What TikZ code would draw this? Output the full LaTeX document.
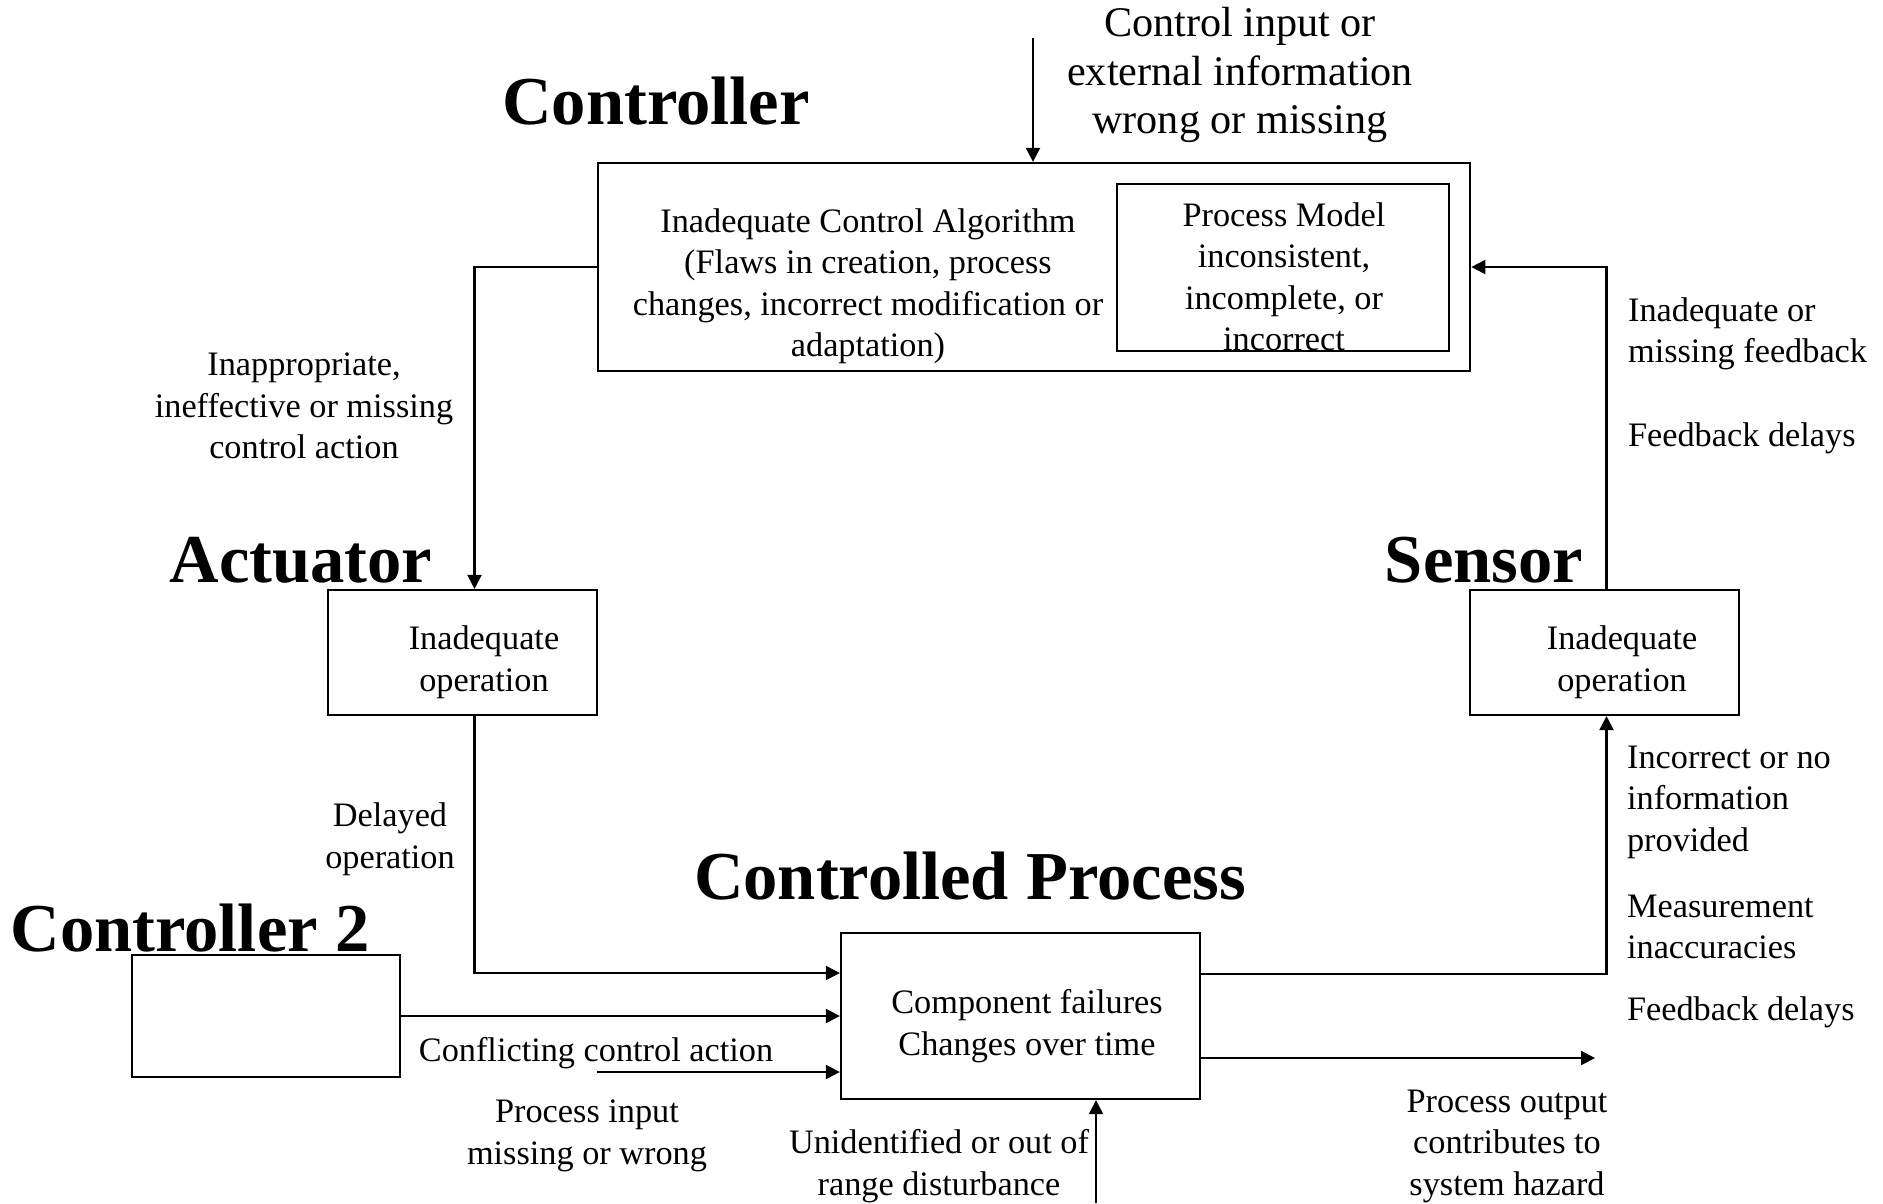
\documentclass[tikz,border=0pt]{standalone}
\usepackage{fontspec}
\setmainfont{Liberation Serif}
\usetikzlibrary{arrows.meta}

\begin{document}
\begin{tikzpicture}[x=0.01cm, y=-0.01cm, ->, >={Triangle[length=1.4mm, width=1.4mm]}, line width=0.6pt,
    box/.style={rectangle, draw, inner sep=0pt},
    txt/.style={inner sep=0pt, yshift=-0.03cm, align=center, font=\fontsize{9.75}{11.8}\selectfont},
    bigtxt/.style={inner sep=0pt, yshift=-0.02cm, align=center, font=\fontsize{12}{13.9}\selectfont},
    title/.style={inner sep=0pt, anchor=base, font=\fontsize{19.5}{23}\selectfont\bfseries},
    ]
    \useasboundingbox (0,0) rectangle (1883,1203);

    % boxes
    \node [box, minimum width=8.72cm, minimum height=2.08cm](ctrl) at (1034,267){};
    \node [box, minimum width=3.32cm, minimum height=1.67cm](pm) at (1283,267.5){};
    \node [box, minimum width=2.69cm, minimum height=1.25cm](act) at (462.5,652.5){};
    \node [box, minimum width=2.69cm, minimum height=1.25cm](sens) at (1604.5,652.5){};
    \node [box, minimum width=3.59cm, minimum height=1.66cm](proc) at (1020.5,1016){};
    \node [box, minimum width=2.68cm, minimum height=1.22cm](ctrl2) at (266,1016){};

    % titles
    \node [title](ctrltitle) at (656,124){Controller};
    \node [title](acttitle) at (301,582){Actuator};
    \node [title](senstitle) at (1484,582){Sensor};
    \node [title](proctitle) at (970,899){Controlled Process};
    \node [title](ctrl2title) at (190,951){Controller 2};

    % texts in boxes
    \node [txt](alg) at (868,283){Inadequate Control Algorithm\\(Flaws in creation, process\\changes, incorrect modification or\\adaptation)};
    \node [txt](pmtext) at (1284,274){Process Model\\inconsistent,\\incomplete, or\\incorrect};
    \node [txt](acttext) at (484,659){Inadequate\\operation};
    \node [txt](senstext) at (1622,659){Inadequate\\operation};
    \node [txt](proctext) at (1027,1023){Component failures\\Changes over time};

    % labels
    \node [bigtxt](cintext) at (1240,73){Control input or\\external information\\wrong or missing};
    \node [txt](caction) at (304,403){Inappropriate,\\ineffective or missing\\control action};
    \node [txt](delayed) at (390,836){Delayed\\operation};
    \node [txt](conflict) at (596,1050){Conflicting control action};
    \node [txt](pinput) at (587,1133){Process input\\missing or wrong};
    \node [txt](disturb) at (939,1163){Unidentified or out of\\range disturbance};
    \node [txt](poutput) at (1507,1143){Process output\\contributes to\\system hazard};
    \node [txt, align=left, anchor=west](fb) at (1627,331){Inadequate or\\missing feedback};
    \node [txt, align=left, anchor=west](fbdelay) at (1627,435){Feedback delays};
    \node [txt, align=left, anchor=west](noinfo) at (1626,799){Incorrect or no\\information\\provided};
    \node [txt, align=left, anchor=west](measure) at (1626,924){Measurement\\inaccuracies};
    \node [txt, align=left, anchor=west](fbdelay2) at (1626,1009){Feedback delays};

    % free ends
    \coordinate (cin) at (1033,38);
    \coordinate (pin) at (597,1072);
    \coordinate (dist) at (1096,1203);
    \coordinate (pout) at (1595,1058);

    % connectors
    \draw (cin) -- (cin |- ctrl.north);
    \draw (ctrl.west) -| ([xshift=0.12cm]act.north);
    \draw ([xshift=0.12cm]act.south) |- ([yshift=0.43cm]proc.west);
    \draw (ctrl2.east) -- (proc.west);
    \draw (pin) -- (pin -| proc.west);
    \draw (dist) -- (dist |- proc.south);
    \draw (pout -| proc.east) -- (pout);
    \draw ([yshift=0.42cm]proc.east) -| ([xshift=0.02cm]sens.south);
    \draw ([xshift=0.02cm]sens.north) |- (ctrl.east);

\end{tikzpicture}
\end{document}
